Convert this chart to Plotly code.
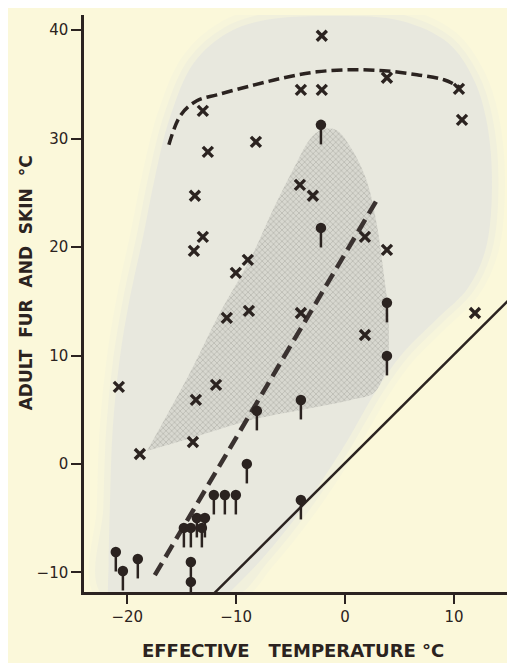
import plotly.graph_objects as go

# ---------------- data ----------------
# "x" symbols (fur values)
cross_x = [-2.14, -4.06, -2.14, 3.84, 10.45, 10.73, -13.06, -12.60, -8.19, -13.79,
           -13.06, -13.88, -8.93, -10.03, -10.86, -8.83, -4.15, -2.96, 1.82, 3.84,
           11.92, -4.06, 1.82, -20.77, -18.84, -13.70, -11.85, -13.97]
cross_y = [39.48, 34.50, 34.50, 35.61, 34.59, 31.73, 32.56, 28.78, 29.70, 24.73,
           20.94, 19.65, 18.82, 17.62, 13.47, 14.12, 25.74, 24.73, 20.94, 19.74,
           13.93, 13.93, 11.90, 7.11, 0.93, 5.91, 7.30, 2.03]

# filled-circle "pin" symbols (skin values)
pin_x = [-2.22, -2.22, 3.84, 3.84, -4.06, -8.10, -9.02, -12.05, -11.04, -10.03,
         -4.06, -13.61, -12.87, -14.80, -14.16, -13.15, -21.05, -20.40, -19.03,
         -14.16, -14.16]
pin_y = [31.27, 21.77, 14.86, 9.97, 5.91, 4.90, 0.01, -2.85, -2.85, -2.85,
         -3.31, -4.97, -4.97, -5.89, -5.89, -5.89, -8.11, -9.86, -8.75,
         -9.03, -10.87]

# upper dashed envelope curve
curve_x = [-16.18, -15.08, -13.61, -11.77, -8.65, -5.62, -2.59, 0.53, 3.56, 6.59, 9.07, 10.63]
curve_y = [29.44, 32.19, 33.49, 34.04, 34.87, 35.61, 36.16, 36.35, 36.26, 35.89, 35.43, 34.69]

# steep dashed regression line
steep_x = [-17.47, 2.92]
steep_y = [-10.24, 24.35]

# solid line (fur = ambient)
ident_x = [-12.5, 17.0]
ident_y = [-12.4, 17.1]

# outer light-grey zone
outer_x = [-21.78, -21.60, -21.33, -20.68, -19.76, -18.57, -17.47, -16.09, -13.88, -10.76,
           -7.18, -0.66, 5.12, 9.44, 11.74, 12.93, 13.48, 12.93, 11.28, 8.52,
           5.31, 3.01, -0.20, -3.88, -7.55, -10.58]
outer_y = [-11.80, -4.05, 3.33, 9.78, 15.32, 20.85, 26.38, 31.92, 36.99, 39.76,
           40.96, 41.30, 40.86, 38.83, 35.60, 31.91, 26.38, 19.92, 16.24, 13.47,
           10.24, 7.02, 1.48, -4.05, -8.66, -11.80]

# inner stippled zone
inner_x = [-18.19, -15.99, -13.88, -11.75, -8.65, -6.54, -4.70, -3.14, -2.13, -0.85,
           0.53, 1.99, 2.92, 3.56, 3.93, 4.02, 3.84, 2.64, 0.53, -4.06, -8.65, -13.52, -17.19]
inner_y = [1.21, 5.18, 9.14, 13.47, 19.01, 23.62, 27.30, 30.07, 30.81, 30.81,
           29.15, 26.10, 22.04, 17.44, 14.39, 12.26, 9.14, 6.56, 5.91, 4.99, 4.07, 2.59, 1.49]

x_ticks = [-20, -10, 0, 10]
y_ticks = [-10, 0, 10, 20, 30, 40]
x_title = "EFFECTIVE   TEMPERATURE °C"
y_title = "ADULT  FUR  AND  SKIN  °C"

# ---------------- styling ----------------
CREAM = "rgb(251,248,218)"
INK = "#2b2320"
GREY = "rgb(232,232,222)"

fig = go.Figure()

# soft halo around the outer zone
for w, c in [(26, "rgb(247,245,219)"), (13, "rgb(241,240,220)")]:
    fig.add_trace(go.Scatter(x=outer_x + [outer_x[0]], y=outer_y + [outer_y[0]],
                             mode="lines", line=dict(color=c, width=w, shape="spline"),
                             hoverinfo="skip", showlegend=False))
fig.add_trace(go.Scatter(x=outer_x, y=outer_y, mode="lines", fill="toself",
                         fillcolor=GREY, line=dict(width=0, shape="spline"),
                         hoverinfo="skip", showlegend=False))

# inner stippled zone
fig.add_trace(go.Scatter(x=inner_x, y=inner_y, mode="lines", fill="toself",
                         fillcolor="rgb(212,212,204)",
                         fillpattern=dict(shape="x", fgcolor="rgb(140,140,134)",
                                          bgcolor="rgb(216,216,208)", size=4, solidity=0.3),
                         line=dict(width=0, shape="spline"),
                         hoverinfo="skip", showlegend=False))

# solid line
fig.add_trace(go.Scatter(x=ident_x, y=ident_y, mode="lines",
                         line=dict(color=INK, width=2.5), showlegend=False))

# dashed lines
fig.add_trace(go.Scatter(x=steep_x, y=steep_y, mode="lines",
                         line=dict(color="#3a3230", width=4.5, dash="14px,7px"),
                         showlegend=False))
fig.add_trace(go.Scatter(x=curve_x, y=curve_y, mode="lines",
                         line=dict(color=INK, width=3.5, dash="11px,5px", shape="spline"),
                         showlegend=False))

# pins (circle with stem below)
fig.add_trace(go.Scatter(x=pin_x, y=pin_y, mode="markers",
                         marker=dict(symbol="circle", size=10.5, color=INK),
                         error_y=dict(type="constant", symmetric=False, value=0,
                                      valueminus=1.8, width=0, thickness=2.5, color=INK),
                         showlegend=False))

# crosses
fig.add_trace(go.Scatter(x=cross_x, y=cross_y, mode="markers",
                         marker=dict(symbol="x-thin", size=10,
                                     line=dict(width=3.4, color=INK), color=INK),
                         showlegend=False))

axis_common = dict(showline=True, linecolor=INK, linewidth=2.5, ticks="outside",
                   tickcolor=INK, tickwidth=2, showgrid=False, zeroline=False,
                   tickfont=dict(family="DejaVu Sans", size=15, color=INK))

fig.update_layout(
    width=515, height=663,
    margin=dict(l=76, r=0, t=7, b=79),
    paper_bgcolor=CREAM, plot_bgcolor=CREAM,
    xaxis=dict(range=[-23.97, 16.33], tickvals=x_ticks, ticklen=9, **axis_common),
    yaxis=dict(range=[-11.8, 41.4], tickvals=y_ticks, ticklen=10, **axis_common),
    annotations=[
        dict(text=y_title, xref="paper", yref="paper", x=-0.132, y=0.535,
             xanchor="center", yanchor="middle", textangle=-90, showarrow=False,
             font=dict(family="DejaVu Sans", size=17, color=INK, weight="bold")),
        dict(text=x_title, xref="paper", yref="paper", x=0.476, y=-0.102,
             xanchor="center", yanchor="middle", showarrow=False,
             font=dict(family="DejaVu Sans", size=18, color=INK, weight="bold")),
    ],
)

fig.write_html("out.html")
